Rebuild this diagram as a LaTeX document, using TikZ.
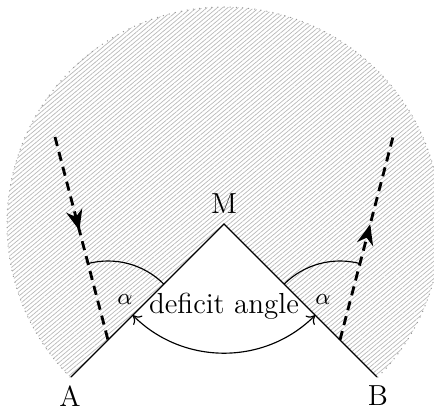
\documentclass[tikz,border=0pt]{standalone}
\usetikzlibrary{patterns.meta,arrows.meta,decorations.markings}
\begin{document}
\begin{tikzpicture}[x=0.39pt,y=0.39pt,
  hatch/.style={pattern={Lines[angle=40,distance=1.3pt,line width=0.28pt]},pattern color=gray!55},
  rim/.style={gray!80,dotted,line width=0.4pt},
  wedge/.style={black,line width=0.5pt},
  ray/.style={black,line width=1.1pt,dash pattern=on 3.6pt off 2.4pt},
  anglearc/.style={black,line width=0.45pt},
  lab/.style={inner sep=0pt,font=\fontsize{11.3}{13}\selectfont},
  alab/.style={inner sep=0pt,font=\fontsize{9.5}{11}\selectfont},
  markat/.style={postaction={decorate},decoration={markings,
     mark=at position #1 with {\arrow[line width=0.6pt]{Stealth[length=8pt,width=6.5pt,inset=2.6pt]}}}}
]
\useasboundingbox (-224,-188) rectangle (210,224);
\clip (-224,-188) rectangle (210,224);
\def\R{217}
% hatched disc with wedge removed
\fill[hatch] (0,0) -- (-45:\R) arc (-45:225:\R) -- cycle;
\draw[rim] (-45:\R) arc (-45:225:\R);
% points
\coordinate (M) at (0,0);
\coordinate (A) at (-153,-153);
\coordinate (B) at (153,-153);
\coordinate (L1) at (-169,87);
\coordinate (L2) at (-116,-116);
\coordinate (R1) at (169,87);
\coordinate (R2) at (116,-116);
% wedge edges
\draw[wedge] (A) -- (M) -- (B);
% dashed rays
\draw[ray,markat=0.46] (L1) -- (L2);
\draw[ray,markat=0.57] (R2) -- (R1);
% alpha arcs
\draw[anglearc] (L2) ++(45:79) arc (45:104.6:79);
\draw[anglearc] (R2) ++(135:79) arc (135:75.4:79);
% deficit angle arc
\draw[anglearc,{To[length=3pt,width=5pt]}-{To[length=3pt,width=5pt]}] (M) ++(225:129) arc (225:315:129);
% labels
\node[lab] (Mlab) at (0,20) {M};
\node[lab] (Alab) at (-154,-172) {A};
\node[lab] (Blab) at (154,-172) {B};
\node[lab,anchor=base] (def) at (0,-90) {deficit angle};
\node[alab] (alL) at (-99,-76) {$\alpha$};
\node[alab] (alR) at (99,-76) {$\alpha$};
\end{tikzpicture}
\end{document}
